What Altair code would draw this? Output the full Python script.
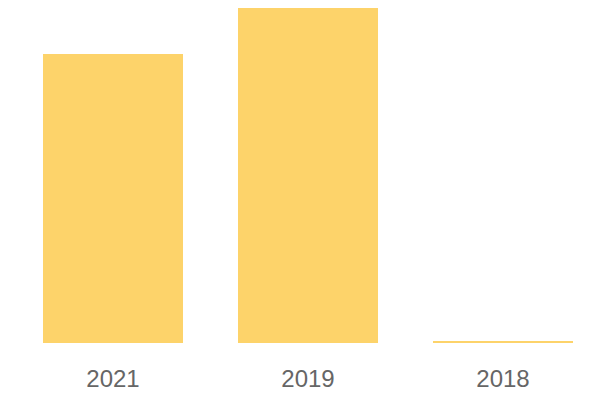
import altair as alt
import pandas as pd

years = ["2021", "2019", "2018"]
values = [85.5, 100.0, 0.6]

df = pd.DataFrame({"year": years, "value": values})

chart = alt.Chart(df).mark_bar(color="#FDD36A", clip=False).encode(
    x=alt.X("year:N", sort=years,
            scale=alt.Scale(paddingInner=0.282, paddingOuter=0.0974),
            axis=alt.Axis(title=None, labelAngle=0, domain=False, ticks=False,
                          labelFontSize=24, labelColor="#666666", labelFont="Liberation Sans",
                          labelPadding=24)),
    y=alt.Y("value:Q", scale=alt.Scale(domain=[0, 99.1], nice=False, zero=True),
            axis=None),
).properties(
    width=568, height=335,
    autosize=alt.AutoSizeParams(type="none"),
    padding={"left": 16, "right": 0, "top": 0, "bottom": 49},
).configure_view(stroke=None)

chart.save("out.html", embed_options={"renderer": "svg", "actions": False})
